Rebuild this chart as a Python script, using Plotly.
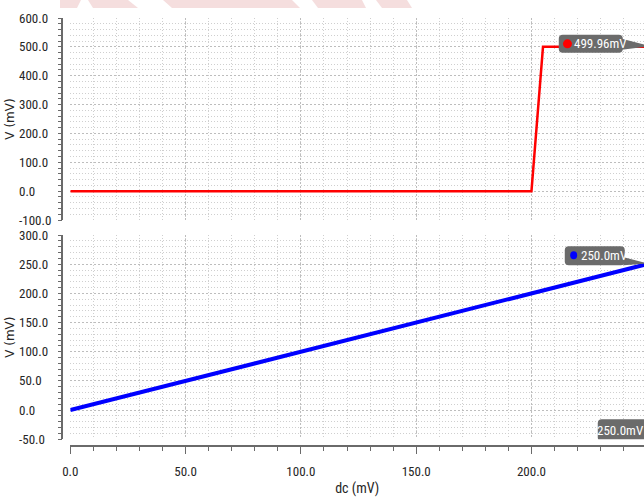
import plotly.graph_objects as go

# ---- sweep data (mV) ----
dc_step = [0.0, 200.0, 205.0, 250.0]          # dc sweep points, comparator output
v_step = [0.0, 0.0, 499.96, 499.96]            # comparator output
dc_ramp = [0.0, 250.0]                         # dc sweep points, follower output
v_ramp = [0.0, 250.0]                          # follower output

cursor_dc = 250.0                              # vertical cursor position
step_marker_dc = 215.6                         # marker placed on the step trace
step_marker_val = 499.96
ramp_marker_val = 250.0
ramp_label_dc = 218.3

x_ticks = [0, 50, 100, 150, 200, 250]
top_y_ticks = [-100, 0, 100, 200, 300, 400, 500, 600]
bot_y_ticks = [-50, 0, 50, 100, 150, 200, 250, 300]

# ---- page geometry (pixels) ----
W, H = 644, 497
ML, MB = 15, 51
PW, PH = W - ML, H - MB


def fx(p):
    return (p - ML) / PW


def fy(p):
    return (PH - p) / PH


FONT = "Roboto Condensed, DejaVu Sans Condensed, sans-serif"
TXT = "#262626"
AX = "#6a6a6a"
GRID_MAJ = "#bdbdbd"
GRID_MIN = "#cfcfcf"
DASH_MAJ = "2px,2px"
DASH_MIN = "1px,2px"
BOX = "#6b6b6b"

TOP_DOM = [fy(220), fy(18)]
BOT_DOM = [fy(439.3), fy(235)]

fig = go.Figure()
fig.add_trace(go.Scatter(x=dc_step, y=v_step, mode="lines",
                         line=dict(color="#ff0000", width=2.5),
                         xaxis="x", yaxis="y", hoverinfo="skip"))
fig.add_trace(go.Scatter(x=dc_ramp, y=v_ramp, mode="lines",
                         line=dict(color="#0000ff", width=4),
                         xaxis="x", yaxis="y2", hoverinfo="skip"))
# empty traces so the axis-line / label axes are drawn
for ya in ["y3", "y4", "y5", "y6"]:
    fig.add_trace(go.Scatter(x=[], y=[], xaxis="x", yaxis=ya, hoverinfo="skip"))


def grid_axis(dom, rng, dt, mdt):
    return dict(domain=dom, range=rng, anchor="x", showgrid=True,
                gridcolor=GRID_MAJ, griddash=DASH_MAJ, gridwidth=1,
                dtick=dt, tick0=0, showticklabels=False, ticks="",
                showline=False, zeroline=False, automargin=False,
                minor=dict(dtick=mdt, tick0=0, showgrid=True,
                           gridcolor=GRID_MIN, griddash=DASH_MIN, gridwidth=1))


def line_axis(base, rng, dt, mdt):
    return dict(overlaying=base, anchor="free", position=fx(62.3), range=rng,
                showgrid=False, zeroline=False, showline=True, linecolor=AX,
                linewidth=1.5, ticks="outside", ticklen=4, tickcolor=AX,
                tickwidth=1, dtick=dt, tick0=0, showticklabels=False,
                automargin=False,
                minor=dict(dtick=mdt, tick0=0, ticks="outside", ticklen=4,
                           tickcolor=AX, showgrid=False))


def label_axis(base, rng, vals):
    return dict(overlaying=base, anchor="free", position=0, range=rng,
                showgrid=False, zeroline=False, showline=False, ticks="",
                tickmode="array", tickvals=vals,
                ticktext=[f"{v:.1f}" for v in vals],
                ticklabelposition="inside", ticklabeloverflow="allow",
                ticklabelstandoff=0,
                tickfont=dict(family=FONT, size=13, color=TXT),
                automargin=False,
                title=dict(text="V (mV)", standoff=0,
                           font=dict(family="DejaVu Sans", size=12, color=TXT)))


fig.update_layout(
    width=W, height=H,
    margin=dict(l=ML, r=0, t=0, b=MB),
    paper_bgcolor="white", plot_bgcolor="white",
    showlegend=False,
    xaxis=dict(domain=[fx(70.3), 1], range=[0, 248.8], anchor="free", position=0,
               showline=True, linecolor=AX, linewidth=2, zeroline=False,
               ticks="outside", ticklen=7, tickwidth=1, tickcolor=AX,
               tickmode="array", tickvals=x_ticks,
               ticktext=[f"{v:.1f}" for v in x_ticks],
               tickfont=dict(family=FONT, size=13, color=TXT),
               ticklabelstandoff=6, automargin=False,
               showgrid=True, gridcolor=GRID_MAJ, griddash=DASH_MAJ, gridwidth=1,
               minor=dict(dtick=10, tick0=0, ticks="outside", ticklen=4,
                          tickcolor=AX, showgrid=True, gridcolor=GRID_MIN,
                          griddash=DASH_MIN, gridwidth=1),
               title=dict(text="dc (mV)", standoff=7,
                          font=dict(family=FONT, size=14, color=TXT))),
    yaxis=grid_axis(TOP_DOM, [-100, 600], 100, 20),
    yaxis2=grid_axis(BOT_DOM, [-50, 300], 50, 10),
    yaxis3=line_axis("y", [-100, 600], 100, 20),
    yaxis4=label_axis("y", [-100, 600], top_y_ticks),
    yaxis5=line_axis("y2", [-50, 300], 50, 10),
    yaxis6=label_axis("y2", [-50, 300], bot_y_ticks),
)


def rrect(x0, x1, y0, y1, r=4):
    # rounded rectangle in pixel offsets (y up)
    return (f"M{x0 + r},{y1} L{x1 - r},{y1} Q{x1},{y1} {x1},{y1 - r} "
            f"L{x1},{y0 + r} Q{x1},{y0} {x1 - r},{y0} L{x0 + r},{y0} "
            f"Q{x0},{y0} {x0},{y0 + r} L{x0},{y1 - r} Q{x0},{y1} {x0 + r},{y1} Z")


def pix_shape(xref, yref, xa, ya, path, color):
    return dict(type="path", xref=xref, yref=yref, xsizemode="pixel",
                ysizemode="pixel", xanchor=xa, yanchor=ya, path=path,
                fillcolor=color, line=dict(width=0), layer="above")


shapes = []
# step-trace callout, pointing at the cursor
shapes.append(pix_shape("x", "y", cursor_dc, step_marker_val,
                        rrect(-88, -24, -6, 12), BOX))
shapes.append(pix_shape("x", "y", cursor_dc, step_marker_val,
                        "M-25,8 L-1,2 L-1,0 L-25,-3 Z", BOX))
shapes.append(dict(type="circle", xref="x", yref="y", xsizemode="pixel",
                   ysizemode="pixel", xanchor=step_marker_dc, yanchor=step_marker_val,
                   x0=-4.5, x1=4.5, y0=-1.5, y1=7.5, fillcolor="#ff0000",
                   line=dict(width=0), layer="above"))
# ramp-trace callout
shapes.append(pix_shape("x", "y2", cursor_dc, ramp_marker_val,
                        rrect(-82, -22, -1, 18), BOX))
shapes.append(pix_shape("x", "y2", cursor_dc, ramp_marker_val,
                        "M-23,7 L-2,1.5 L-2,0.5 L-23,-1 Z", BOX))
shapes.append(dict(type="circle", xref="x", yref="y2", xsizemode="pixel",
                   ysizemode="pixel", xanchor=ramp_label_dc, yanchor=ramp_marker_val,
                   x0=-3.5, x1=3.5, y0=5, y1=13, fillcolor="#0000ff",
                   line=dict(width=0), layer="above"))
# cursor readout on the x axis
shapes.append(pix_shape("x", "y2", cursor_dc, -50,
                        rrect(-49, 6, -2, 20), BOX))

# faint header watermark
wm = [
    [(60, 0), (81, 0), (77, 8), (60, 8)],
    [(88, 0), (128, 0), (138, 8), (93, 8)],
    [(163, 0), (292, 0), (300, 8), (172, 8)],
    [(312, 0), (362, 0), (366, 8), (318, 8)],
    [(376, 0), (407, 0), (412, 8), (382, 8)],
]
for poly in wm:
    p = "M" + " L".join(f"{fx(a):.5f},{fy(b):.5f}" for a, b in poly) + " Z"
    shapes.append(dict(type="path", xref="paper", yref="paper", path=p,
                       fillcolor="#f5dede", line=dict(width=0), layer="below"))

fig.update_layout(shapes=shapes)

LBL = dict(family=FONT, size=13, color="white")
fig.add_annotation(x=step_marker_dc, y=step_marker_val, xref="x", yref="y",
                   text=f"{step_marker_val:.2f}mV", showarrow=False,
                   xanchor="left", yanchor="middle", xshift=5, yshift=3, font=LBL)
fig.add_annotation(x=ramp_label_dc, y=ramp_marker_val, xref="x", yref="y2",
                   text=f"{ramp_marker_val:.1f}mV", showarrow=False,
                   xanchor="left", yanchor="middle", xshift=5, yshift=9, font=LBL)
fig.add_annotation(x=1, y=-50, xref="paper", yref="y2",
                   text=f"{cursor_dc:.1f}mV", showarrow=False,
                   xanchor="right", yanchor="bottom", xshift=2, yshift=-1, font=LBL)

fig.write_html("out.html")
